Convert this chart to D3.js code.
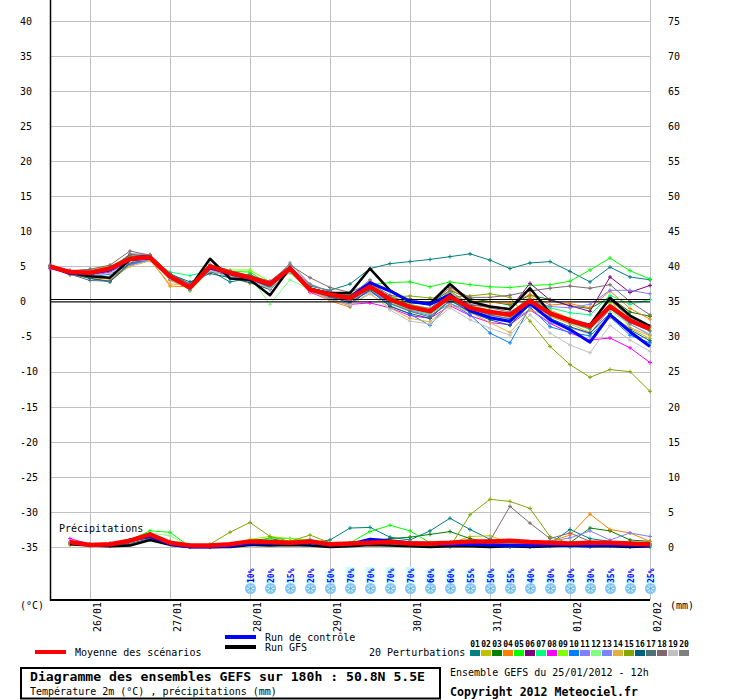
<!DOCTYPE html>
<html><head><meta charset="utf-8">
<script src="https://cdn.jsdelivr.net/npm/d3@7"></script>
<style>body{margin:0;background:#fff} svg{display:block} text{font-family:"DejaVu Sans Mono",monospace}</style>
</head><body><svg id="c" width="740" height="700"></svg>
<script>
// ---------- DATA ----------
const hours = [0,6,12,18,24,30,36,42,48,54,60,66,72,78,84,90,96,102,108,114,120,126,132,138,144,150,156,162,168,174,180];
const dateHours = [12,36,60,84,108,132,156,180];
const dateLabels = ["26/01","27/01","28/01","29/01","30/01","31/01","01/02","02/02"];
const tempTicks = [-35,-30,-25,-20,-15,-10,-5,0,5,10,15,20,25,30,35,40];
const mmTicks = [0,5,10,15,20,25,30,35,40,45,50,55,60,65,70,75];
const snowHours = [60,66,72,78,84,90,96,102,108,114,120,126,132,138,144,150,156,162,168,174,180];
const snowPct = [10,20,15,20,50,70,70,70,70,60,60,55,50,55,40,30,30,30,35,20,25];
const memberNames = ["01","02","03","04","05","06","07","08","09","10","11","12","13","14","15","16","17","18","19","20"];
const memberColors = ["#008080","#c0c000","#008000","#ff8000","#00ff00","#800080","#00ff80","#ff00ff","#80ff00","#0080ff","#8080ff","#80ff80","#7f7fff","#e0b040","#80a800","#006080","#507078","#806870","#c0c0c0","#808080"];

const tMean = [5.0,4.2,4.1,4.7,6.1,6.3,3.6,2.0,5.0,4.1,3.4,2.5,4.7,1.7,1.0,0.5,2.1,0.3,-0.8,-1.4,0.7,-0.9,-1.5,-1.9,0.1,-1.7,-2.7,-3.5,-0.7,-2.7,-3.9];
const tCtrl = [5.0,4.0,4.0,4.5,6.0,6.2,3.5,2.0,4.8,4.0,3.3,2.4,4.8,1.8,1.0,0.6,2.7,1.5,0.0,-0.4,1.0,-1.3,-2.3,-2.8,-0.3,-2.6,-4.0,-5.8,-1.9,-4.3,-6.4];
const tGFS = [5.0,4.1,3.6,3.4,6.0,6.2,3.5,2.0,6.1,3.3,3.1,0.9,4.8,1.8,1.2,1.2,4.7,1.6,0.0,-0.3,2.5,0.0,-0.7,-1.1,1.9,-1.6,-2.8,-3.3,0.5,-2.0,-3.5];
const t01 = [5.1,4.1,3.3,2.9,5.2,6.0,4.0,2.5,4.4,2.8,3.3,2.1,4.5,2.2,1.6,2.5,4.7,5.4,5.7,6.0,6.4,6.8,5.9,4.7,5.5,5.7,4.3,2.8,4.9,3.5,3.1];
const t02 = [5.0,4.3,4.6,5.0,6.5,6.4,3.0,1.8,4.6,3.9,3.6,2.0,4.6,1.6,0.8,0.2,1.8,0.2,-0.4,-1.0,1.3,-0.6,-1.2,-1.8,0.8,-1.2,-2.4,-3.6,0.4,-3.8,-5.3];
const t03 = [4.9,4.2,4.0,4.8,6.4,6.6,3.8,2.2,4.9,3.7,3.9,2.3,4.9,1.9,1.3,0.9,2.4,0.7,-0.2,-0.3,1.6,0.4,0.0,-0.5,0.9,0.3,-0.6,-1.0,0.6,-1.5,-2.1];
const t04 = [5.0,3.8,3.4,3.2,5.4,6.1,2.2,2.1,4.8,3.7,3.0,2.0,4.9,1.4,0.1,-0.8,2.9,-0.1,-0.7,-1.6,1.8,0.1,-0.1,-0.3,1.0,-0.5,-0.3,-0.9,1.5,-1.0,-2.5];
const t05 = [5.0,4.2,4.2,4.9,6.5,6.3,3.4,2.3,4.6,4.3,4.2,2.4,4.4,1.8,1.1,1.0,2.4,2.7,2.8,2.1,2.8,2.4,2.1,2.0,2.3,2.4,2.9,4.5,6.2,4.4,3.2];
const t06 = [5.1,4.4,4.3,4.6,6.7,6.5,3.5,1.9,4.9,4.2,3.5,2.6,4.9,2.0,1.0,0.4,2.3,0.2,-0.9,-1.5,1.0,-0.5,-0.7,-1.0,2.6,0.2,-0.6,-1.4,3.5,1.3,2.3];
const t07 = [4.8,4.0,3.8,4.3,5.9,6.2,4.2,3.7,4.4,3.8,3.2,2.3,4.1,1.5,0.6,0.2,1.6,-0.2,-1.2,-1.8,0.0,-1.0,-1.4,-1.7,0.2,-0.9,-1.6,-1.9,0.9,-0.4,0.3];
const t08 = [4.7,4.0,3.6,4.2,5.6,6.0,3.2,1.8,4.6,3.7,3.0,2.2,4.3,1.3,0.3,-0.4,-0.2,-0.9,-2.0,-2.4,-0.6,-2.0,-3.0,-3.3,-1.2,-3.1,-4.5,-5.5,-5.2,-6.6,-8.7];
const t09 = [5.0,4.1,4.1,4.6,6.2,6.3,3.6,2.2,5.1,4.5,4.5,2.8,4.8,2.0,1.2,0.6,2.0,0.6,-0.4,-1.1,1.1,-0.8,-1.5,-2.3,0.0,-1.9,-2.8,-3.6,-0.3,-2.4,-3.8];
const t10 = [4.8,3.9,3.5,3.9,5.3,6.0,3.6,1.8,4.7,3.3,2.9,2.0,4.6,1.6,0.4,-0.6,1.9,-0.6,-1.8,-3.4,-0.2,-1.9,-4.5,-5.9,-0.8,-3.6,-4.4,-4.9,-2.2,-4.8,-5.9];
const t11 = [5.0,4.1,3.9,4.4,5.2,5.9,3.9,2.1,4.8,3.6,3.3,2.5,4.5,1.7,0.5,0.1,1.4,-0.3,-1.3,-2.0,-0.3,-1.3,-2.0,-2.4,0.2,-0.7,-0.9,-0.4,1.6,1.6,1.1];
const t12 = [5.0,4.2,4.0,4.5,6.0,6.1,3.8,1.5,4.3,4.1,3.6,-0.4,3.1,1.7,1.1,0.3,1.8,-0.1,-1.0,-1.6,0.6,-1.3,-1.8,-2.1,-0.1,-2.2,-3.1,-4.0,-1.3,-3.3,-4.6];
const t13 = [5.1,4.3,4.4,4.8,6.1,6.4,3.2,1.9,4.5,3.9,3.4,2.7,5.0,2.4,1.4,0.7,1.5,0.0,-0.6,-1.2,0.4,-1.6,-2.4,-3.0,-1.1,-3.0,-3.7,-4.6,-1.0,-3.2,-4.8];
const t14 = [4.9,3.8,3.5,3.3,5.0,5.8,2.5,2.4,4.7,3.4,2.6,1.9,4.2,1.5,0.4,-0.5,1.1,-0.9,-2.4,-2.9,-0.5,-1.5,-3.0,-4.4,-1.2,-2.1,-3.2,-4.4,-2.3,-3.7,-4.9];
const t15 = [5.0,4.3,4.3,4.8,6.3,6.4,3.7,2.1,5.0,4.0,3.4,2.5,4.7,1.9,1.1,0.9,1.7,0.6,0.8,0.5,0.6,0.8,1.1,0.6,-2.8,-6.4,-9.0,-10.8,-9.7,-10.0,-12.8];
const t16 = [4.9,4.0,3.3,2.8,5.5,6.1,3.9,2.8,4.0,3.4,2.7,1.7,4.4,1.9,0.7,-0.2,1.6,-0.7,-1.7,-2.4,0.2,-1.5,-2.6,-3.4,-0.4,-2.4,-3.6,-4.5,-1.7,-4.0,-5.6];
const t17 = [5.0,3.9,3.0,2.9,5.6,6.2,3.4,2.2,4.2,3.8,3.1,2.1,4.7,1.7,0.9,0.0,2.2,-0.3,-1.4,-2.2,0.1,-1.0,-1.9,-2.5,0.1,-1.9,-3.0,-3.9,-0.8,-3.0,-4.2];
const t18 = [5.2,4.4,4.6,5.2,7.2,6.6,4.0,2.4,5.3,4.4,3.7,2.9,5.2,3.4,2.0,1.3,2.6,0.9,0.4,-0.4,2.0,0.6,0.6,0.9,1.5,1.9,2.2,1.9,2.4,0.0,-1.9];
const t19 = [4.9,4.0,3.7,4.0,5.7,6.0,3.3,1.7,4.4,3.5,3.1,1.8,4.3,1.5,0.2,-0.5,1.3,-1.2,-2.8,-3.2,-0.9,-2.6,-3.8,-4.8,-1.9,-4.5,-6.2,-7.3,-3.4,-5.5,-7.1];
const t20 = [5.0,4.2,4.1,4.6,6.8,6.7,3.6,1.6,4.9,4.0,3.4,2.4,5.5,2.5,1.4,0.8,3.1,0.4,-0.5,-1.0,1.5,-0.4,-0.9,-1.5,0.4,-1.5,-2.5,-3.3,0.2,-2.3,-3.5];

// precipitation (mm per 6h, from step 1 = 18h on 25/01)
const pMean = [0.7,0.3,0.4,0.9,1.8,0.6,0.2,0.2,0.4,0.8,0.7,0.6,0.8,0.4,0.5,0.6,0.7,0.5,0.5,0.6,0.8,0.8,0.9,0.7,0.6,0.5,0.6,0.6,0.5,0.4];
const pCtrl = [0.6,0.3,0.3,1.0,1.5,0.4,0.0,0.0,0.1,0.5,0.5,0.5,0.6,0.3,0.4,1.1,0.9,0.6,0.5,0.3,0.4,0.3,0.2,0.2,0.3,0.3,0.2,0.3,0.2,0.2];
const pGFS = [0.4,0.2,0.1,0.2,1.0,0.3,0.0,0.0,0.0,0.3,0.2,0.3,0.2,0.0,0.1,0.3,0.2,0.1,0.0,0.1,0.1,0.0,0.1,0.0,0.1,0.2,0.1,0.1,0.0,0.1];
const p01 = [0.5,0.2,0.5,1.0,1.3,0.5,0.0,0.0,0.2,0.5,0.5,0.5,0.6,1.0,2.7,2.8,1.4,1.0,2.3,4.1,2.5,1.1,0.6,0.4,0.5,2.5,1.2,0.8,0.6,0.5];
const p02 = [0.6,0.3,0.4,0.8,1.6,0.6,0.1,0.1,0.3,0.6,0.6,0.5,0.8,0.4,0.5,0.6,0.5,0.4,0.3,0.5,1.5,1.6,0.6,0.5,0.5,0.4,0.6,0.5,0.4,0.3];
const p03 = [0.5,0.3,0.4,0.8,1.8,0.8,0.2,0.1,0.4,0.9,1.2,0.7,0.8,0.3,0.4,0.8,1.2,1.4,1.8,2.2,1.2,0.6,0.5,0.3,0.5,0.6,2.7,2.3,1.0,0.8];
const p04 = [0.3,0.2,0.3,0.7,1.4,0.4,0.0,0.0,0.2,0.5,0.4,0.5,0.6,0.4,0.5,0.5,0.6,0.4,0.3,0.6,0.7,0.6,0.5,0.4,0.8,1.7,4.7,2.5,2.0,0.8];
const p05 = [0.6,0.3,0.5,1.0,2.3,2.1,0.0,0.0,0.2,0.4,1.3,1.2,1.0,0.5,0.6,2.2,3.1,2.3,0.6,0.5,0.3,0.5,0.4,0.4,0.6,0.5,0.4,0.5,0.4,0.3];
const p06 = [0.7,0.3,0.4,0.9,1.7,0.6,0.1,0.1,0.3,0.7,0.6,0.5,0.7,0.5,0.4,0.6,0.7,0.6,0.5,0.4,0.6,0.7,0.8,0.6,0.5,0.4,0.5,0.6,0.5,0.4];
const p07 = [0.5,0.3,0.4,0.8,1.6,0.7,0.2,0.1,0.4,0.8,0.9,0.6,0.7,0.4,0.5,0.7,0.8,0.6,0.5,0.6,0.7,0.5,0.6,0.5,0.9,0.5,0.6,0.4,0.5,0.4];
const p08 = [1.2,0.4,0.3,0.7,1.5,0.5,0.1,0.0,0.3,0.6,0.6,0.5,0.7,0.3,0.5,0.6,0.6,0.4,0.4,0.5,0.6,0.7,0.6,0.5,0.4,0.5,0.4,0.5,0.3,0.3];
const p09 = [0.5,0.2,0.4,0.8,1.6,0.6,0.1,0.1,0.4,1.1,1.5,1.2,1.0,0.6,0.5,0.7,0.8,0.6,0.5,0.5,0.7,0.6,0.6,0.5,0.4,0.5,0.4,0.5,0.4,0.3];
const p10 = [0.6,0.3,0.4,1.0,1.7,0.5,0.0,0.0,0.2,0.4,0.5,0.4,0.6,0.3,0.3,0.6,0.5,0.4,0.3,0.2,0.2,0.1,0.0,0.0,0.1,0.0,0.0,0.1,0.0,0.0];
const p11 = [0.7,0.4,0.4,0.9,1.5,0.6,0.1,0.1,0.3,0.6,0.6,0.5,0.7,0.4,0.4,0.6,0.6,0.5,0.5,0.4,0.6,0.6,0.5,0.5,0.8,1.3,2.3,1.0,2.0,1.5];
const p12 = [0.5,0.3,0.4,0.9,2.0,1.6,0.1,0.1,0.3,0.8,1.0,0.7,0.9,0.5,0.5,0.6,0.7,0.6,0.6,0.5,0.6,0.5,0.5,0.5,0.6,0.5,0.5,0.4,0.4,0.3];
const p13 = [0.6,0.3,0.4,0.8,1.5,0.6,0.1,0.1,0.3,0.7,0.6,0.6,0.8,0.4,0.4,0.5,0.6,0.5,0.4,0.4,0.5,0.5,0.6,0.5,0.5,0.6,0.5,0.6,0.5,0.4];
const p14 = [0.4,0.3,0.4,0.7,1.4,0.5,0.0,0.0,0.3,0.6,0.5,0.6,0.7,0.4,0.4,0.5,0.6,0.5,0.5,0.6,0.8,0.7,0.6,0.5,0.4,0.5,0.6,0.5,0.4,0.3];
const p15 = [0.4,0.2,0.3,0.7,1.5,0.5,0.0,0.4,2.1,3.5,1.5,0.8,1.7,0.6,0.5,0.5,0.6,0.4,0.3,0.0,4.6,6.8,6.5,5.5,1.5,0.5,0.6,0.5,0.6,0.4];
const p16 = [0.6,0.3,0.2,0.5,1.2,0.7,0.1,0.0,0.3,0.7,0.6,0.5,0.6,0.3,0.4,0.6,0.6,0.5,0.4,0.5,0.6,0.5,0.6,0.5,0.5,0.6,0.8,0.6,0.5,0.4];
const p17 = [0.5,0.3,0.2,0.4,1.0,0.6,0.1,0.0,0.3,0.6,0.6,0.5,0.7,0.3,0.3,0.5,0.5,0.4,0.4,0.5,0.6,0.5,0.5,0.4,0.4,0.5,0.5,0.4,0.4,0.3];
const p18 = [0.5,0.3,0.4,0.8,1.3,0.6,0.1,0.1,0.3,0.6,0.6,0.5,0.8,0.4,0.4,0.5,0.6,0.3,0.4,0.5,0.7,0.9,5.8,3.4,1.2,2.0,0.8,0.5,0.4,0.3];
const p19 = [0.6,0.3,0.3,0.7,1.6,0.7,0.1,0.1,0.3,0.6,0.7,0.6,0.8,0.5,0.5,0.6,0.7,0.6,0.5,0.5,0.6,0.6,0.5,0.5,0.6,0.5,0.6,0.5,0.4,0.4];
const p20 = [0.6,0.3,0.4,0.8,1.4,0.7,0.1,0.1,0.4,0.7,0.7,0.6,1.1,0.4,0.4,0.6,0.6,0.5,0.5,0.5,0.8,0.6,0.5,0.5,0.5,0.4,0.6,0.5,0.4,0.3];

const tempMembers = [t01,t02,t03,t04,t05,t06,t07,t08,t09,t10,t11,t12,t13,t14,t15,t16,t17,t18,t19,t20];
const precipMembers = [p01,p02,p03,p04,p05,p06,p07,p08,p09,p10,p11,p12,p13,p14,p15,p16,p17,p18,p19,p20];

// ---------- DRAW ----------
const svg = d3.select("#c");
svg.append("rect").attr("width",740).attr("height",700).attr("fill","#fff");

const x = d3.scaleLinear().domain([0,180]).range([50,650]);
const yT = d3.scaleLinear().domain([-35,40]).range([547,21]);
const yP = d3.scaleLinear().domain([0,75]).range([547,21]);
const px = v => Math.round(v)+0.5;

// grid
const grid = svg.append("g").attr("stroke","#c0c0c0").attr("stroke-width",1).attr("shape-rendering","crispEdges");
tempTicks.forEach(t=>grid.append("line").attr("x1",50).attr("x2",650).attr("y1",px(yT(t))).attr("y2",px(yT(t))));
dateHours.forEach(h=>grid.append("line").attr("x1",px(x(h))).attr("x2",px(x(h))).attr("y1",0).attr("y2",600));

// axes lines
svg.append("line").attr("x1",50.5).attr("x2",50.5).attr("y1",0).attr("y2",601).attr("stroke","#000").attr("stroke-width",1.5);
svg.append("line").attr("x1",50).attr("x2",650).attr("y1",600).attr("y2",600).attr("stroke","#000").attr("stroke-width",2);

// tick labels
const lab = svg.append("g").attr("font-size",10).attr("fill","#000");
tempTicks.forEach(t=>lab.append("text").attr("x",20).attr("y",yT(t)+3.8).text(t));
mmTicks.forEach(m=>lab.append("text").attr("x",668).attr("y",yP(m)+3.8).text(m));
dateHours.forEach((h,i)=>lab.append("text")
  .attr("transform",`translate(${x(h)+10.5},602) rotate(-90)`).attr("text-anchor","end").text(dateLabels[i]));
lab.append("text").attr("x",20).attr("y",609).text("(°C)");
lab.append("text").attr("x",670).attr("y",609).text("(mm)");
lab.append("text").attr("x",59).attr("y",532).text("Précipitations");

// line generators
const lineT = d3.line().x((d,i)=>x(hours[i])).y(d=>yT(d));
const lineP = d3.line().x((d,i)=>x(hours[i+1])).y(d=>yP(d));
const cross = (g, pts, color) => {
  g.append("path").attr("fill","none").attr("stroke",color).attr("stroke-width",1)
   .attr("d", pts.map(p=>`M${p[0]-2},${p[1]}h4M${p[0]},${p[1]-2}v4`).join(""));
};

// members
const mem = svg.append("g");
tempMembers.forEach((s,k)=>{
  mem.append("path").attr("d",lineT(s)).attr("fill","none").attr("stroke",memberColors[k]).attr("stroke-width",1);
  cross(mem, s.map((d,i)=>[x(hours[i]),yT(d)]), memberColors[k]);
});
precipMembers.forEach((s,k)=>{
  mem.append("path").attr("d",lineP(s)).attr("fill","none").attr("stroke",memberColors[k]).attr("stroke-width",1);
  cross(mem, s.map((d,i)=>[x(hours[i+1]),yP(d)]), memberColors[k]);
});

// 0°C double line
svg.append("line").attr("x1",50).attr("x2",650).attr("y1",299.5).attr("y2",299.5).attr("stroke","#000").attr("stroke-width",1);
svg.append("line").attr("x1",50).attr("x2",650).attr("y1",301.8).attr("y2",301.8).attr("stroke","#000").attr("stroke-width",1);

// GFS, control, mean
const main = svg.append("g").attr("fill","none").attr("stroke-linejoin","round");
main.append("path").attr("d",lineT(tGFS)).attr("stroke","#000").attr("stroke-width",2.5);
main.append("path").attr("d",lineP(pGFS)).attr("stroke","#000").attr("stroke-width",2.5);
main.append("path").attr("d",lineT(tCtrl)).attr("stroke","#0000ff").attr("stroke-width",3);
main.append("path").attr("d",lineP(pCtrl)).attr("stroke","#0000ff").attr("stroke-width",3);
main.append("path").attr("d",lineT(tMean)).attr("stroke","#ff0000").attr("stroke-width",4.5);
main.append("path").attr("d",lineP(pMean)).attr("stroke","#ff0000").attr("stroke-width",4.5);

// snow probability
const snow = svg.append("g");
snowHours.forEach((h,i)=>{
  const cx = x(h), p = snowPct[i];
  const bh = 2 + p*0.2;
  snow.append("rect").attr("x",cx-4.5).attr("y",583-bh).attr("width",9).attr("height",bh).attr("fill","#c8ffff");
  snow.append("text").attr("transform",`translate(${cx+3.5},583) rotate(-90)`)
    .attr("font-size",8).attr("font-weight","bold").attr("fill","#0000ff").text(p+"%");
  const f = snow.append("g").attr("transform",`translate(${cx+0.5},588.5)`);
  f.append("circle").attr("r",5.5).attr("fill","#84c6f2");
  [0,60,120].forEach(a=>{
    const r = a*Math.PI/180;
    f.append("line").attr("x1",-4*Math.cos(r)).attr("y1",-4*Math.sin(r)).attr("x2",4*Math.cos(r)).attr("y2",4*Math.sin(r))
     .attr("stroke","#dff3ff").attr("stroke-width",1);
  });
  f.append("circle").attr("r",1.2).attr("fill","#4f9fe0");
});

// legend
const leg = svg.append("g").attr("font-size",10);
leg.append("rect").attr("x",35).attr("y",650).attr("width",31).attr("height",4).attr("fill","#ff0000");
leg.append("text").attr("x",75).attr("y",655.5).text("Moyenne des scénarios");
leg.append("rect").attr("x",225).attr("y",635).attr("width",31).attr("height",4).attr("fill","#0000ff");
leg.append("text").attr("x",265).attr("y",640.5).text("Run de contrôle");
leg.append("rect").attr("x",225).attr("y",645).attr("width",31).attr("height",4).attr("fill","#000");
leg.append("text").attr("x",265).attr("y",650.5).text("Run GFS");
leg.append("text").attr("x",369).attr("y",655.5).text("20 Perturbations");
memberNames.forEach((n,k)=>{
  leg.append("rect").attr("x",470+11*k).attr("y",650).attr("width",10).attr("height",6).attr("fill",memberColors[k]);
  leg.append("text").attr("x",475+11*k).attr("y",646.5).attr("text-anchor","middle")
    .attr("font-size",8).attr("font-weight","bold").text(n);
});

// title box
svg.append("rect").attr("x",21).attr("y",668).attr("width",419).attr("height",30.5)
  .attr("fill","none").attr("stroke","#000").attr("stroke-width",2);
svg.append("text").attr("x",30).attr("y",681).attr("font-size",12).attr("font-weight","bold")
  .attr("textLength",395).attr("lengthAdjust","spacingAndGlyphs").text("Diagramme des ensembles GEFS sur 180h : 50.8N 5.5E");
svg.append("text").attr("x",30).attr("y",695).attr("font-size",10).text("Température 2m (°C) , précipitations (mm)");
svg.append("text").attr("x",450).attr("y",676).attr("font-size",10).text("Ensemble GEFS du 25/01/2012 - 12h");
svg.append("text").attr("x",450).attr("y",695.5).attr("font-size",11.5).attr("font-weight","bold")
  .attr("textLength",188).attr("lengthAdjust","spacingAndGlyphs").text("Copyright 2012 Meteociel.fr");
</script></body></html>
